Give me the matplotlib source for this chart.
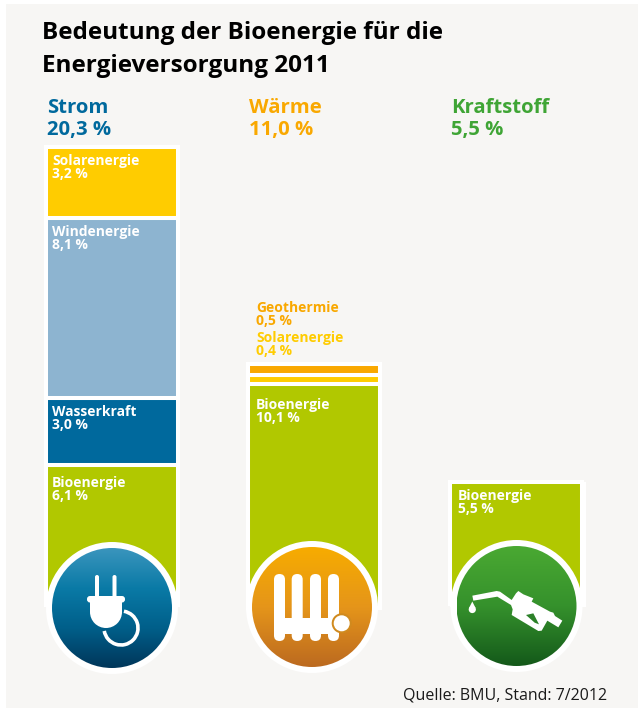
import matplotlib
matplotlib.use('Agg')
import matplotlib.pyplot as plt
import numpy as np
from matplotlib.patches import Rectangle, Circle, Polygon, Arc, FancyBboxPatch

plt.rcParams['font.family'] = ['Open Sans', 'DejaVu Sans']

title_lines = ['Bedeutung der Bioenergie für die', 'Energieversorgung 2011']
sectors = ['Strom', 'Wärme', 'Kraftstoff']
totals = ['20,3 %', '11,0 %', '5,5 %']
sector_colors = ['#00699d', '#f9a800', '#3fa535']

# stacks from the bottom up
strom_names = ['Bioenergie', 'Wasserkraft', 'Windenergie', 'Solarenergie']
strom_vals = [6.1, 3.0, 8.1, 3.2]
strom_cols = ['#b1c800', '#00699d', '#8db4d0', '#ffcc00']
waerme_names = ['Bioenergie', 'Solarenergie', 'Geothermie']
waerme_vals = [10.1, 0.4, 0.5]
waerme_cols = ['#b1c800', '#ffcc00', '#f9a800']
kraft_names = ['Bioenergie']
kraft_vals = [5.5]
kraft_cols = ['#b1c800']

PANEL = '#f7f6f4'
PX = 22.2  # pixels per percent

fig = plt.figure(figsize=(6.38, 7.08), dpi=100, facecolor='white')

# overlay in pixels for the panel, icons and text
px = fig.add_axes([0, 0, 1, 1], zorder=3)
px.set_xlim(0, 638)
px.set_ylim(708, 0)
px.axis('off')

bg = fig.add_axes([0, 0, 1, 1], zorder=0)
bg.set_xlim(0, 638)
bg.set_ylim(708, 0)
bg.axis('off')
bg.add_patch(Rectangle((6, 4), 632, 704, fc=PANEL, ec='none'))

# bars, y in percent; each column sits on its own hidden foot under the circle
ax = fig.add_axes([0, 0, 1, 1], zorder=1)
ax.patch.set_alpha(0)
ax.axis('off')
ax.set_xlim(-112 / 202, (638 - 112) / 202)
ax.set_ylim(-(708 - 600) / PX, 600 / PX)
feet = [0.0, -0.36, -0.2]
stacks = [(strom_vals, strom_cols), (waerme_vals, waerme_cols), (kraft_vals, kraft_cols)]
for i, (vals, cols) in enumerate(stacks):
    bottom = feet[i]
    top_px = 600 - (feet[i] + sum(vals)) * PX
    # white frame runs down behind the circle
    bg.add_patch(Rectangle((44 + 202 * i + (2 if i == 2 else 0), top_px), 136, 607 - top_px, fc='white', ec='none'))
    for v, c in zip(vals, cols):
        ax.bar(i, v, bottom=bottom, width=132 / 202, color=c, edgecolor='white', linewidth=2.9)
        bottom += v


def gradient_circle(cx, cy, colors):
    px.add_patch(Circle((cx, cy), 66, fc='white', ec='none'))
    stops = np.array([matplotlib.colors.to_rgb(c) for c in colors])
    t = np.linspace(0, 1, 120)
    pos = np.linspace(0, 1, len(colors))
    img = np.stack([np.interp(t, pos, stops[:, k]) for k in range(3)], axis=1)[:, None, :]
    im = px.imshow(img, extent=(cx - 60, cx + 60, cy + 60, cy - 60), aspect='auto', zorder=2)
    im.set_clip_path(Circle((cx, cy), 60, transform=px.transData))


gradient_circle(112, 608, ['#3a95bd', '#0a7aa6', '#005f8a', '#00365a'])
gradient_circle(312, 607, ['#f7ac00', '#e5951a', '#bc6a20'])
gradient_circle(516.5, 606, ['#4aa932', '#35912c', '#14591a'])
px.set_xlim(0, 638)
px.set_ylim(708, 0)

# plug
W = dict(fc='white', ec='none', zorder=4)
px.add_patch(FancyBboxPatch((95, 575), 4, 23, boxstyle='round,pad=0,rounding_size=2', **W))
px.add_patch(FancyBboxPatch((112.5, 575), 4, 23, boxstyle='round,pad=0,rounding_size=2', **W))
px.add_patch(FancyBboxPatch((87, 596), 38, 6.5, boxstyle='round,pad=0,rounding_size=3', **W))
px.add_patch(Rectangle((90, 601), 32, 11, **W))
px.add_patch(Circle((106, 612), 16, **W))
px.add_patch(Arc((121, 628), 34, 34, theta1=-80, theta2=170, color='white', lw=2.6, zorder=4))

# radiator
for x0 in [274, 291.7, 310, 328]:
    px.add_patch(FancyBboxPatch((x0, 574), 11, 67, boxstyle='round,pad=0,rounding_size=5.5', **W))
px.add_patch(Rectangle((276, 618), 62, 16, **W))
px.add_patch(Circle((341.7, 623.3), 10, fc='#d08a1e', ec='none', zorder=4))
px.add_patch(Circle((341.7, 623.3), 8, **W))

# nozzle, traced in zoom coordinates of the crop at (440, 530)
nozzle = [(97, 197), (170, 183), (180, 185), (215, 210), (228, 190), (235, 183), (250, 193),
          (280, 205), (275, 215), (330, 245), (340, 248), (345, 258), (367, 272), (355, 292),
          (322, 272), (305, 302), (295, 303), (215, 255), (218, 238), (213, 225), (172, 200), (100, 212)]
hole = [(258, 255), (280, 250), (297, 283), (284, 278)]
px.add_patch(Polygon([(440 + a / 3, 530 + b / 3) for a, b in nozzle], closed=True, **W))
px.add_patch(Polygon([(440 + a / 3, 530 + b / 3) for a, b in hole], closed=True, fc='#2c8129', ec='none', zorder=5))
px.add_patch(Circle((472.3, 609.5), 3.6, **W))
px.add_patch(Polygon([(472.3, 601.5), (469, 608), (475.6, 608)], closed=True, **W))

# text
for line, y in zip(title_lines, [39, 72]):
    px.text(42, y, line, fontsize=17.45, fontweight='bold', color='#000000', va='baseline', ha='left')
for i, (s, t, c) in enumerate(zip(sectors, totals, sector_colors)):
    x = 47 + 202 * i
    if i == 2:
        x = 451
    px.text(x, 113, s, fontsize=14.6, fontweight='bold', color=c, va='baseline')
    px.text(x, 135, t, fontsize=14.6, fontweight='bold', color=c, va='baseline')


def seg_label(x, y, name, val, color='white'):
    px.text(x, y, name, fontsize=10, fontweight='bold', color=color, va='baseline', zorder=6)
    px.text(x, y + 13, '%s %%' % str(val).replace('.', ','), fontsize=10, fontweight='bold', color=color, va='baseline', zorder=6)


for n, v, y in zip(strom_names, strom_vals, [487, 416, 236, 165]):
    seg_label(52, y, n, v)
seg_label(256, 409, waerme_names[0], waerme_vals[0])
seg_label(256, 342, waerme_names[1], waerme_vals[1], color='#ffcc00')
seg_label(256, 312, waerme_names[2], waerme_vals[2], color='#f9a800')
seg_label(457.5, 500, kraft_names[0], kraft_vals[0])

px.text(403, 700, 'Quelle: BMU, Stand: 7/2012', fontsize=11.55, color='#1a1a1a', va='baseline')

fig.savefig('out.png', dpi=100, facecolor='white')
